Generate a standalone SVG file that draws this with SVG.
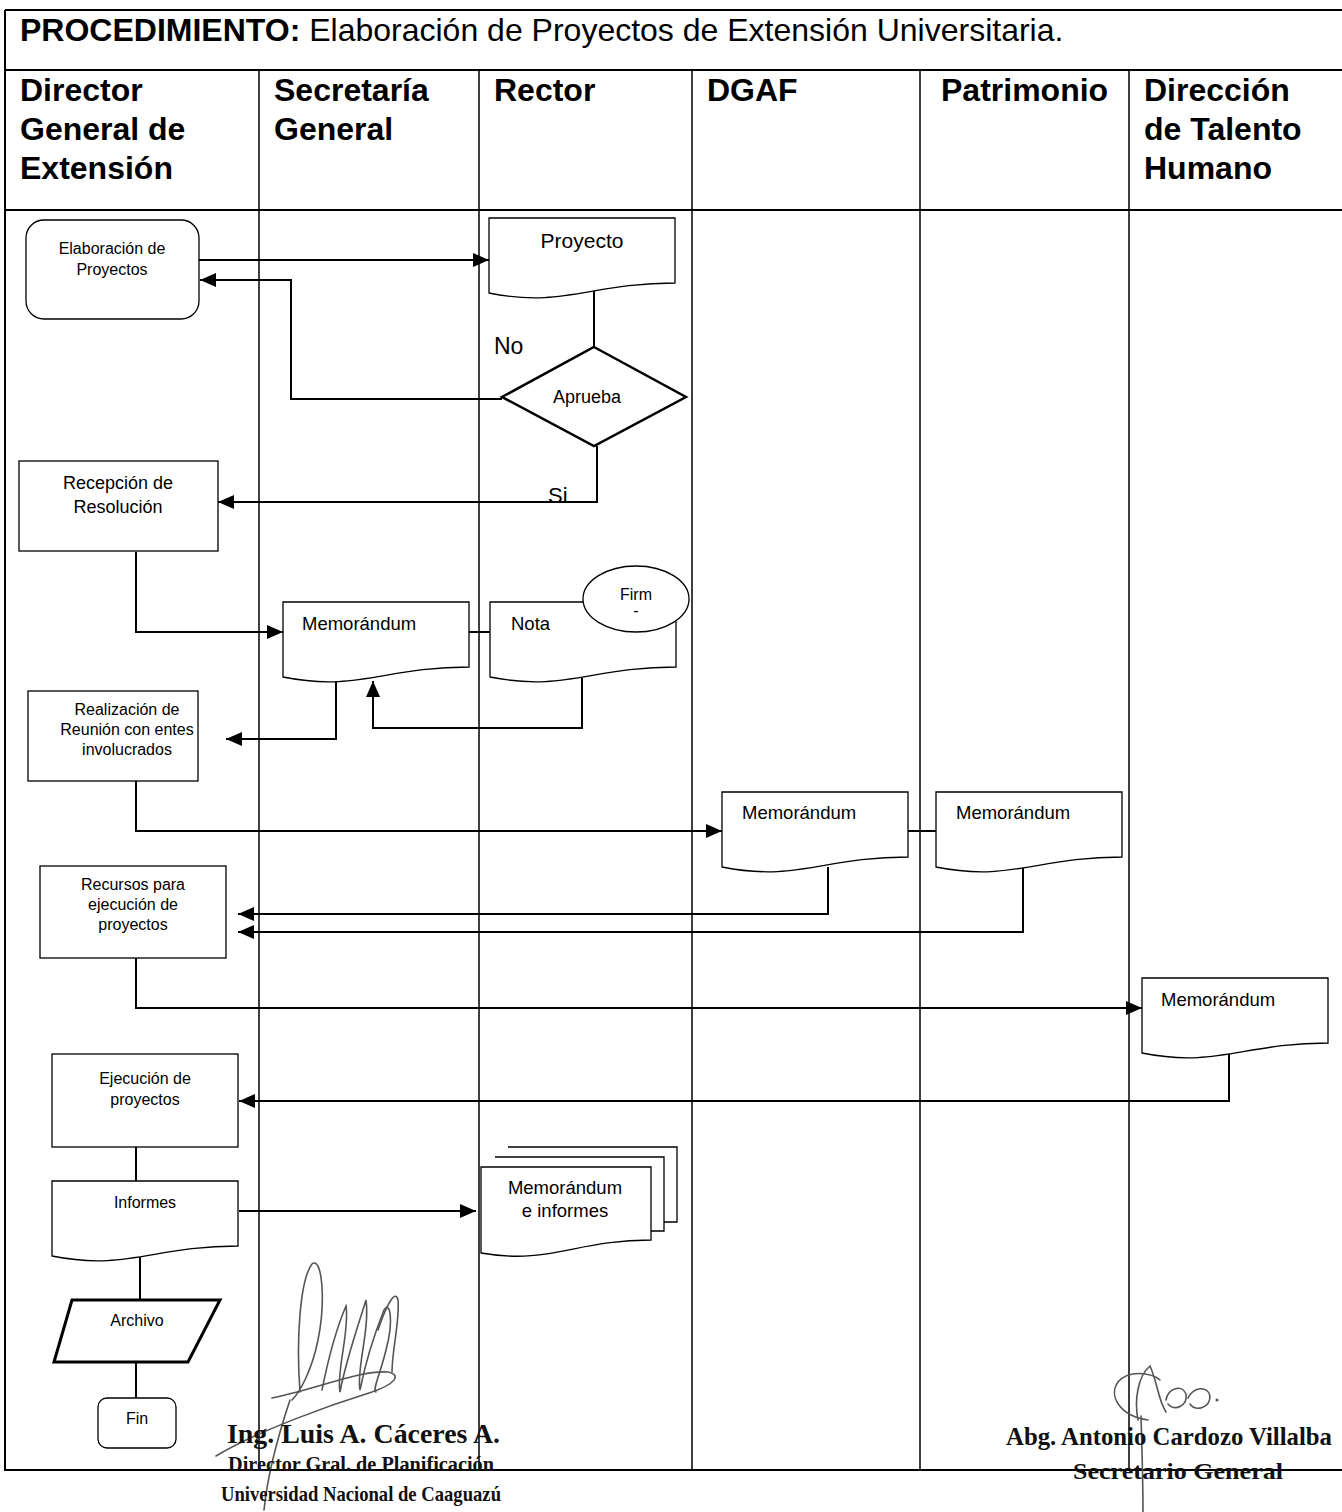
<svg xmlns="http://www.w3.org/2000/svg" width="1342" height="1512" viewBox="0 0 1342 1512">
<style>
.frame{fill:none;stroke:#000;stroke-width:2}
.lane{fill:none;stroke:#000;stroke-width:1.5}
.shape{fill:#fff;stroke:#000;stroke-width:1.3}
.thick{fill:#fff;stroke:#000;stroke-width:3}
.conn{fill:none;stroke:#000;stroke-width:2}
.arr{marker-end:url(#ah)}
.t{font-family:"Liberation Sans",Arial,sans-serif;fill:#000}
.hd{font-family:"Liberation Sans",Arial,sans-serif;font-weight:bold;font-size:32px;fill:#000}
.s16{font-size:16px}
.s18{font-size:18px}
.c{text-anchor:middle}
.sig{font-family:"Liberation Serif","Times New Roman",serif;font-weight:bold;fill:#111}
.scr{fill:none;stroke:#555;stroke-width:1.6;stroke-linecap:round}
</style>
<defs>
<marker id="ah" markerUnits="userSpaceOnUse" markerWidth="16" markerHeight="14" refX="16" refY="7" orient="auto">
<path d="M0,0 L16,7 L0,14 Z" fill="#000"/>
</marker>
<path id="doc" d="M0,0 H186 V65 C102.3,65 74.4,90 0,75 Z"/>
</defs>
<rect width="1342" height="1512" fill="#fff"/>

<g id="frame">
<path class="frame" d="M5,10 H1342 M5,70 H1342 M5,210 H1342 M5,10 V1470 H1342"/>
<path class="lane" d="M259,70 V1470 M479,70 V1470 M692,70 V1470 M920,70 V1470 M1129,70 V1470"/>
<text x="20" y="41" class="t" style="font-size:32px"><tspan font-weight="bold">PROCEDIMIENTO:</tspan> Elaboración de Proyectos de Extensión Universitaria.</text>
</g>

<g id="lane-headers">
<text class="hd" x="20" y="101">Director</text>
<text class="hd" x="20" y="140">General de</text>
<text class="hd" x="20" y="179">Extensión</text>
<text class="hd" x="274" y="101">Secretaría</text>
<text class="hd" x="274" y="140">General</text>
<text class="hd" x="494" y="101">Rector</text>
<text class="hd" x="707" y="101">DGAF</text>
<text class="hd" x="941" y="101">Patrimonio</text>
<text class="hd" x="1144" y="101">Dirección</text>
<text class="hd" x="1144" y="140">de Talento</text>
<text class="hd" x="1144" y="179">Humano</text>
</g>

<g id="connectors">
<path class="conn arr" d="M199,260 H489"/>
<path class="conn arr" d="M502,399 H291 V280 H200"/>
<path class="conn" d="M594,290 V347"/>
<path class="conn arr" d="M597,446 V502 H218"/>
<path class="conn arr" d="M136,552 V632 H283"/>
<path class="conn" d="M469,632 H490"/>
<path class="conn arr" d="M582,678 V728 H373 V681"/>
<path class="conn arr" d="M336,681 V739 H226"/>
<path class="conn arr" d="M136,781 V831 H722"/>
<path class="conn" d="M908,831 H936"/>
<path class="conn arr" d="M828,867 V914 H238"/>
<path class="conn arr" d="M1023,868 V932 H238"/>
<path class="conn arr" d="M136,958 V1008 H1142"/>
<path class="conn arr" d="M1229,1054 V1101 H239"/>
<path class="conn" d="M136,1147 V1181"/>
<path class="conn arr" d="M239,1211 H476"/>
<path class="conn" d="M140,1257 V1300"/>
<path class="conn" d="M136,1362 V1398"/>
</g>

<g id="n-elaboracion">
<rect class="shape" x="26" y="220" width="173" height="99" rx="18"/>
<text class="t s16 c" x="112" y="254">Elaboración de</text>
<text class="t s16 c" x="112" y="275">Proyectos</text>
</g>

<g id="n-proyecto">
<use href="#doc" class="shape" x="489" y="218"/>
<text class="t c" style="font-size:21px" x="582" y="248">Proyecto</text>
</g>

<g id="n-aprueba">
<path class="thick" style="stroke-width:2.5" d="M594,347 L686,397 L594,446 L502,397 Z"/>
<text class="t s18 c" x="587" y="403">Aprueba</text>
</g>
<g id="lbl-no"><text class="t" style="font-size:23px" x="494" y="354">No</text></g>
<g id="lbl-si"><text class="t" style="font-size:22px" x="548" y="503">Si</text></g>

<g id="n-recepcion">
<rect class="shape" x="19" y="461" width="199" height="90"/>
<text class="t s18 c" x="118" y="489">Recepción de</text>
<text class="t s18 c" x="118" y="513">Resolución</text>
</g>

<g id="n-memo-sec">
<use href="#doc" class="shape" x="283" y="602"/>
<text class="t" style="font-size:18.5px" x="302" y="630">Memorándum</text>
</g>

<g id="n-nota">
<use href="#doc" class="shape" x="490" y="602"/>
<text class="t" style="font-size:18.5px" x="511" y="630">Nota</text>
</g>

<g id="n-firma">
<ellipse class="shape" cx="636" cy="599" rx="53" ry="33"/>
<text class="t s16 c" x="636" y="600">Firm</text>
<text class="t s16 c" x="636" y="616">-</text>
</g>

<g id="n-realizacion">
<rect class="shape" x="28" y="691" width="170" height="90"/>
<text class="t s16 c" x="127" y="715">Realización de</text>
<text class="t s16 c" x="127" y="735">Reunión con entes</text>
<text class="t s16 c" x="127" y="755">involucrados</text>
</g>

<g id="n-memo-dgaf">
<use href="#doc" class="shape" x="722" y="792"/>
<text class="t" style="font-size:18.5px" x="742" y="819">Memorándum</text>
</g>

<g id="n-memo-pat">
<use href="#doc" class="shape" x="936" y="792"/>
<text class="t" style="font-size:18.5px" x="956" y="819">Memorándum</text>
</g>

<g id="n-recursos">
<rect class="shape" x="40" y="866" width="186" height="92"/>
<text class="t s16 c" x="133" y="890">Recursos para</text>
<text class="t s16 c" x="133" y="910">ejecución de</text>
<text class="t s16 c" x="133" y="930">proyectos</text>
</g>

<g id="n-memo-th">
<use href="#doc" class="shape" x="1142" y="978"/>
<text class="t" style="font-size:18.5px" x="1161" y="1006">Memorándum</text>
</g>

<g id="n-ejecucion">
<rect class="shape" x="52" y="1054" width="186" height="93"/>
<text class="t s16 c" x="145" y="1084">Ejecución de</text>
<text class="t s16 c" x="145" y="1105">proyectos</text>
</g>

<g id="n-informes">
<use href="#doc" class="shape" x="52" y="1181"/>
<text class="t s16 c" x="145" y="1208">Informes</text>
</g>

<g id="n-memo-informes">
<path class="shape" d="M508,1147 H677 V1222 H664"/>
<path class="shape" d="M495,1157 H664 V1231 H651"/>
<path class="shape" d="M481,1167 H651 V1240 C575,1240 550,1265 481,1253 Z"/>
<text class="t c" style="font-size:18.5px" x="565" y="1194">Memorándum</text>
<text class="t c" style="font-size:18.5px" x="565" y="1217">e informes</text>
</g>

<g id="n-archivo">
<path class="thick" d="M72,1300 H220 L188,1362 H54 Z"/>
<text class="t s16 c" x="137" y="1326">Archivo</text>
</g>

<g id="n-fin">
<rect class="shape" x="98" y="1398" width="78" height="50" rx="9"/>
<text class="t s16 c" x="137" y="1424">Fin</text>
</g>

<g id="signature-left">
<path class="scr" d="M300,1392 C296,1340 300,1280 312,1264 C322,1256 326,1300 318,1340 C312,1370 300,1392 292,1400"/>
<path class="scr" d="M322,1390 C330,1350 340,1320 346,1306 C350,1330 336,1372 340,1392 C346,1360 360,1320 366,1300 C370,1330 356,1370 360,1390 C366,1360 376,1330 384,1310 C390,1300 394,1320 386,1350 C380,1375 372,1390 376,1392"/>
<path class="scr" d="M378,1330 C388,1300 396,1290 398,1300 C400,1320 392,1350 392,1372"/>
<path class="scr" d="M216,1456 C260,1430 330,1405 372,1392 C395,1384 402,1375 388,1372 C360,1370 320,1388 272,1398"/>
<path class="scr" d="M290,1400 C280,1430 268,1470 264,1510"/>
</g>
<g id="signature-left-text">
<text class="sig" x="227" y="1443" style="font-size:27px" textLength="273" lengthAdjust="spacingAndGlyphs">Ing. Luis A. Cáceres A.</text>
<text class="sig" x="228" y="1471" style="font-size:22px" textLength="266" lengthAdjust="spacingAndGlyphs">Director Gral. de Planificación</text>
<text class="sig" x="221" y="1501" style="font-size:22px" textLength="280" lengthAdjust="spacingAndGlyphs">Universidad Nacional de Caaguazú</text>
</g>

<g id="signature-right">
<path class="scr" d="M1148,1420 C1120,1416 1108,1396 1118,1382 C1128,1370 1150,1372 1160,1380 M1138,1420 C1134,1400 1138,1376 1150,1366 C1158,1384 1158,1400 1166,1412"/>
<path class="scr" d="M1166,1400 C1168,1388 1182,1384 1186,1394 C1188,1406 1174,1412 1168,1404 M1188,1398 C1194,1386 1208,1386 1210,1396 C1210,1408 1196,1412 1190,1404"/>
<circle cx="1217" cy="1400" r="1.5" fill="#555"/>
<path class="scr" d="M1141,1416 C1142,1450 1143,1480 1143,1512"/>
</g>
<g id="signature-right-text">
<text class="sig" x="1006" y="1445" style="font-size:25px" textLength="326" lengthAdjust="spacingAndGlyphs">Abg. Antonio Cardozo Villalba</text>
<text class="sig" x="1073" y="1479" style="font-size:24px" textLength="210" lengthAdjust="spacingAndGlyphs">Secretario General</text>
</g>
</svg>
